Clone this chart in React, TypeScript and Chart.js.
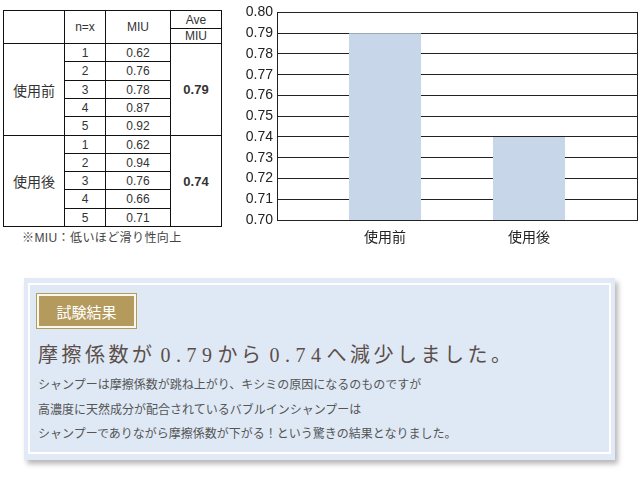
import React, { useEffect, useRef } from "react";
import { Chart, registerables } from "chart.js";

Chart.register(...registerables);

// ---- data ----
const categories = ["使用前", "使用後"];
const averageMIU = [0.79, 0.74];
const sampleNumbers = [1, 2, 3, 4, 5];
const beforeMIU = [0.62, 0.76, 0.78, 0.87, 0.92];
const afterMIU = [0.62, 0.94, 0.76, 0.66, 0.71];
const yTickValues = [0.7, 0.71, 0.72, 0.73, 0.74, 0.75, 0.76, 0.77, 0.78, 0.79, 0.8];
const groupSamples = [beforeMIU, afterMIU];

const badgeText = "試験結果";
const footnote = "※MIU：低いほど滑り性向上";
const bodyLines = [
  "シャンプーは摩擦係数が跳ね上がり、キシミの原因になるのものですが",
  "高濃度に天然成分が配合されているバブルインシャンプーは",
  "シャンプーでありながら摩擦係数が下がる！という驚きの結果となりました。",
];

const JP = '"Liberation Sans", Arial, "Noto Sans CJK JP", sans-serif';

const framePlugin = {
  id: "frame",
  afterDraw(chart: any) {
    const { ctx, chartArea } = chart;
    ctx.save();
    ctx.strokeStyle = "#222";
    ctx.lineWidth = 1;
    const l = Math.round(chartArea.left) + 0.5;
    const t = Math.round(chartArea.top) + 0.5;
    const r = Math.round(chartArea.right) + 0.5;
    const b = Math.round(chartArea.bottom) + 0.5;
    ctx.strokeRect(l, t, r - l, b - t);
    ctx.restore();
  },
};

function BarChart() {
  const ref = useRef<HTMLCanvasElement>(null);
  useEffect(() => {
    if (!ref.current) return;
    const chart = new Chart(ref.current, {
      type: "bar",
      data: {
        datasets: [
          {
            data: categories.map((_, i) => ({ x: i, y: averageMIU[i] })),
            backgroundColor: "#c7d6e9",
            borderWidth: 0,
            barPercentage: 0.5,
            categoryPercentage: 1,
          },
        ],
      },
      options: {
        animation: false,
        responsive: false,
        devicePixelRatio: 1,
        layout: { padding: { top: 10, right: 3, bottom: 0, left: 0 } },
        plugins: { legend: { display: false }, tooltip: { enabled: false } },
        scales: {
          x: {
            type: "linear",
            min: -0.75,
            max: 1.75,
            offset: false,
            bounds: "data",
            grid: { display: false, drawTicks: false, offset: false },
            border: { display: false },
            afterBuildTicks: (s: any) => {
              s.ticks = categories.map((_, i) => ({ value: i }));
            },
            afterFit: (s: any) => {
              s.height = 30;
            },
            ticks: {
              padding: 8,
              color: "#222",
              font: { size: 14, family: '"Noto Sans CJK JP", sans-serif' },
              callback: (v: any) => categories[Math.round(Number(v))] ?? "",
              maxRotation: 0,
              autoSkip: false,
            },
          },
          y: {
            min: 0.7,
            max: 0.8,
            grid: { color: "#222", lineWidth: 1, drawTicks: false },
            border: { display: false },
            afterBuildTicks: (s: any) => {
              s.ticks = yTickValues.map((v) => ({ value: v }));
            },
            afterFit: (s: any) => {
              s.width = 49;
            },
            ticks: {
              padding: 4,
              color: "#222",
              font: { size: 14, family: '"Liberation Sans", Arial, sans-serif' },
              callback: (v: any) => Number(v).toFixed(2),
              autoSkip: false,
            },
          },
        },
      },
      plugins: [framePlugin],
    } as any);
    return () => chart.destroy();
  }, []);
  return (
    <div style={{ position: "absolute", left: 228, top: 0, width: 412, height: 250 }}>
      <canvas ref={ref} width={412} height={250} style={{ display: "block" }} />
    </div>
  );
}

function Cell(props: { x1: number; y1: number; x2: number; y2: number; children?: any; style?: any }) {
  const { x1, y1, x2, y2, children, style } = props;
  return (
    <div
      style={{
        position: "absolute",
        left: x1,
        top: y1,
        width: x2 - x1 + 1,
        height: y2 - y1 + 1,
        boxSizing: "border-box",
        border: "1px solid #111",
        display: "flex",
        alignItems: "center",
        justifyContent: "center",
        fontFamily: JP,
        fontSize: 12,
        color: "#333",
        lineHeight: 1,
        ...style,
      }}
    >
      {children}
    </div>
  );
}

function DataTable() {
  const cols = [3, 64, 105, 170, 221];
  const rowY = (k: number) => Math.round(43 + k * 18.3);
  const cells: any[] = [];
  cells.push(<Cell key="h0" x1={cols[0]} y1={10} x2={cols[1]} y2={43} />);
  cells.push(
    <Cell key="h1" x1={cols[1]} y1={10} x2={cols[2]} y2={43}>
      n=x
    </Cell>
  );
  cells.push(
    <Cell key="h2" x1={cols[2]} y1={10} x2={cols[3]} y2={43}>
      MIU
    </Cell>
  );
  cells.push(
    <Cell key="h3" x1={cols[3]} y1={10} x2={cols[4]} y2={28}>
      Ave
    </Cell>
  );
  cells.push(
    <Cell key="h4" x1={cols[3]} y1={28} x2={cols[4]} y2={43}>
      MIU
    </Cell>
  );
  groupSamples.forEach((vals, g) => {
    const base = g * sampleNumbers.length;
    cells.push(
      <Cell key={"g" + g} x1={cols[0]} y1={rowY(base)} x2={cols[1]} y2={rowY(base + vals.length)} style={{ fontSize: 14, fontFamily: '"Noto Sans CJK JP", sans-serif' }}>
        {categories[g]}
      </Cell>
    );
    cells.push(
      <Cell key={"a" + g} x1={cols[3]} y1={rowY(base)} x2={cols[4]} y2={rowY(base + vals.length)} style={{ fontSize: 13, fontWeight: "bold" }}>
        {averageMIU[g].toFixed(2)}
      </Cell>
    );
    vals.forEach((v, i) => {
      cells.push(
        <Cell key={"n" + g + i} x1={cols[1]} y1={rowY(base + i)} x2={cols[2]} y2={rowY(base + i + 1)}>
          {sampleNumbers[i]}
        </Cell>
      );
      cells.push(
        <Cell key={"v" + g + i} x1={cols[2]} y1={rowY(base + i)} x2={cols[3]} y2={rowY(base + i + 1)}>
          {v.toFixed(2)}
        </Cell>
      );
    });
  });
  return <>{cells}</>;
}

export default function App() {
  const headlineParts = [
    { t: "摩擦係数が", num: false },
    { t: averageMIU[0].toFixed(2), num: true },
    { t: "から", num: false },
    { t: averageMIU[1].toFixed(2), num: true },
    { t: "へ減少しました。", num: false },
  ];
  return (
    <div
      style={{
        position: "absolute",
        left: 0,
        top: 0,
        width: 640,
        height: 484,
        background: "#fff",
        overflow: "hidden",
      }}
    >
      <DataTable />
      <div
        style={{
          position: "absolute",
          left: 22,
          top: 231,
          fontSize: 12,
          lineHeight: "14px",
          letterSpacing: 0.4,
          color: "#444",
          fontFamily: JP,
          whiteSpace: "nowrap",
        }}
      >
        {footnote}
      </div>
      <BarChart />

      {/* result box */}
      <div
        style={{
          position: "absolute",
          left: 24,
          top: 278,
          width: 591,
          height: 182,
          background: "#e1eaf6",
          boxShadow: "3px 4px 5px rgba(0,0,0,0.28)",
        }}
      />
      <div
        style={{
          position: "absolute",
          left: 28,
          top: 283,
          width: 583,
          height: 171,
          boxSizing: "border-box",
          border: "2px solid #ffffff",
          background: "#dfe9f5",
        }}
      />
      <div
        style={{
          position: "absolute",
          left: 36,
          top: 293,
          width: 101,
          height: 36,
          boxSizing: "border-box",
          border: "1px solid #b49a5c",
          padding: 2,
          background: "#fbf8f0",
        }}
      >
        <div
          style={{
            width: "100%",
            height: "100%",
            background: "#b49a5c",
            color: "#fff",
            display: "flex",
            alignItems: "center",
            justifyContent: "center",
            fontFamily: '"Noto Sans CJK JP", sans-serif',
            fontSize: 15,
            lineHeight: 1,
          }}
        >
          {badgeText}
        </div>
      </div>
      <div
        style={{
          position: "absolute",
          left: 38,
          top: 341,
          fontFamily: '"Liberation Serif", "Noto Sans CJK JP", serif',
          fontSize: 20,
          lineHeight: "28px",
          letterSpacing: 3.5,
          color: "#5b4e4a",
          whiteSpace: "nowrap",
        }}
      >
        {headlineParts.map((p, i) => (
          <span key={i} style={p.num ? { letterSpacing: 5.5, paddingLeft: 5 } : undefined}>
            {p.t}
          </span>
        ))}
      </div>
      <div
        style={{
          position: "absolute",
          left: 38,
          top: 372,
          fontFamily: '"Noto Sans CJK JP", sans-serif',
          fontSize: 12,
          lineHeight: "24.5px",
          color: "#555",
          whiteSpace: "nowrap",
        }}
      >
        {bodyLines.map((l, i) => (
          <div key={i}>{l}</div>
        ))}
      </div>
    </div>
  );
}
